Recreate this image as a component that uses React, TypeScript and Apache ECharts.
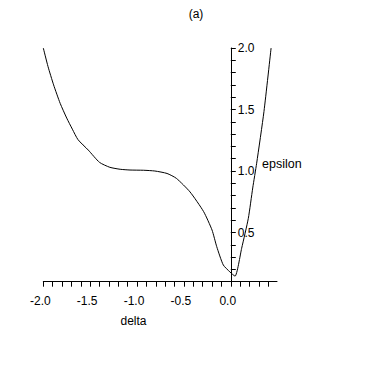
import React, { useEffect, useRef } from "react";
import * as echarts from "echarts";

// Curve
const deltaValues = [
  -2.0, -1.95, -1.89, -1.82, -1.75, -1.69, -1.63, -1.52, -1.4, -1.29, -1.18,
  -1.075, -0.93, -0.81, -0.68, -0.58, -0.435, -0.29, -0.2, -0.15, -0.08, -0.01,
  0.045, 0.116, 0.187, 0.234, 0.276, 0.354, 0.43,
];
const epsilonValues = [
  2.0, 1.85, 1.7, 1.55, 1.43, 1.34, 1.255, 1.17, 1.07, 1.03, 1.014, 1.008,
  1.006, 1.0, 0.98, 0.94, 0.83, 0.67, 0.52, 0.385, 0.236, 0.18, 0.145, 0.372,
  0.615, 0.862, 1.063, 1.484, 2.0,
];

const xLabelValues = [-2.0, -1.5, -1.0, -0.5, 0.0];
const xTickValues = [
  -2.0, -1.9, -1.8, -1.7, -1.6, -1.5, -1.4, -1.3, -1.2, -1.1, -1.0, -0.9, -0.8,
  -0.7, -0.6, -0.5, -0.4, -0.3, -0.2, -0.1, 0.0, 0.1, 0.2, 0.3, 0.4,
];
const yLabelValues = [0.5, 1.0, 1.5, 2.0];
const yTickValues = [
  0.2, 0.3, 0.4, 0.5, 0.6, 0.7, 0.8, 0.9, 1.0, 1.1, 1.2, 1.3, 1.4, 1.5, 1.6,
  1.7, 1.8, 1.9, 2.0,
];

const titleText = "(a)";
const xName = "delta";
const yName = "epsilon";

const FONT = '"Liberation Sans", Arial, sans-serif';

export default function App() {
  const ref = useRef<HTMLDivElement>(null);

  useEffect(() => {
    if (!ref.current) return;
    const chart = echarts.init(ref.current, null, { renderer: "svg" });
    const data = deltaValues.map((d, i) => [d, epsilonValues[i]]);
    const xMin = -2.0;
    const xMax = 0.493;
    const gridLeft = 43.3;
    const gridRight = 105;
    const gridWidth = 382 - gridLeft - gridRight;
    // horizontal distance from grid's left edge to delta = 0
    const yAxisShift = ((0 - xMin) / (xMax - xMin)) * gridWidth;
    chart.setOption({
      animation: false,
      backgroundColor: "#ffffff",
      title: {
        text: titleText,
        left: 191,
        top: 3,
        textAlign: "center",
        textStyle: {
          fontFamily: FONT,
          fontSize: 12,
          fontWeight: "normal",
          color: "#000",
        },
      },
      grid: { left: gridLeft, right: gridRight, top: 48, bottom: 100.3 },
      xAxis: {
        type: "value",
        min: xMin,
        max: xMax,
        splitLine: { show: false },
        axisLine: { show: true, onZero: false, lineStyle: { color: "#000", width: 1 } },
        axisTick: {
          show: true,
          length: 5,
          customValues: xTickValues,
          lineStyle: { color: "#000", width: 1 },
        },
        axisLabel: {
          show: true,
          customValues: xLabelValues,
          margin: 13,
          color: "#000",
          fontFamily: FONT,
          fontSize: 12,
          padding: [0, 6, 0, 0],
          formatter: (v: number) => v.toFixed(1),
        },
      },
      yAxis: {
        type: "value",
        min: 0.1,
        max: 2.0,
        position: "left",
        offset: -yAxisShift,
        splitLine: { show: false },
        axisLine: { show: true, onZero: false, lineStyle: { color: "#000", width: 1 } },
        axisTick: {
          show: true,
          inside: true,
          length: 5,
          customValues: yTickValues,
          lineStyle: { color: "#000", width: 1 },
        },
        axisLabel: {
          show: true,
          inside: true,
          customValues: yLabelValues,
          margin: 7,
          color: "#000",
          fontFamily: FONT,
          fontSize: 12,
          verticalAlign: "middle",
          padding: [4, 0, 0, 0],
          formatter: (v: number) => v.toFixed(1),
        },
      },
      graphic: [
        {
          type: "text",
          x: 133.5,
          y: 321,
          style: {
            text: xName,
            font: `12px ${FONT}`,
            fill: "#000",
            align: "center",
            verticalAlign: "middle",
          },
        },
        {
          type: "text",
          x: 262,
          y: 164,
          style: {
            text: yName,
            font: `12.5px ${FONT}`,
            fill: "#000",
            align: "left",
            verticalAlign: "middle",
          },
        },
      ],
      series: [
        {
          type: "line",
          data,
          showSymbol: false,
          symbol: "none",
          smooth: 0.2,
          lineStyle: { color: "#000", width: 1 },
        },
      ],
    });
    return () => chart.dispose();
  }, []);

  return (
    <div
      ref={ref}
      style={{ position: "fixed", left: 0, top: 0, width: 382, height: 382, background: "#fff" }}
    />
  );
}
